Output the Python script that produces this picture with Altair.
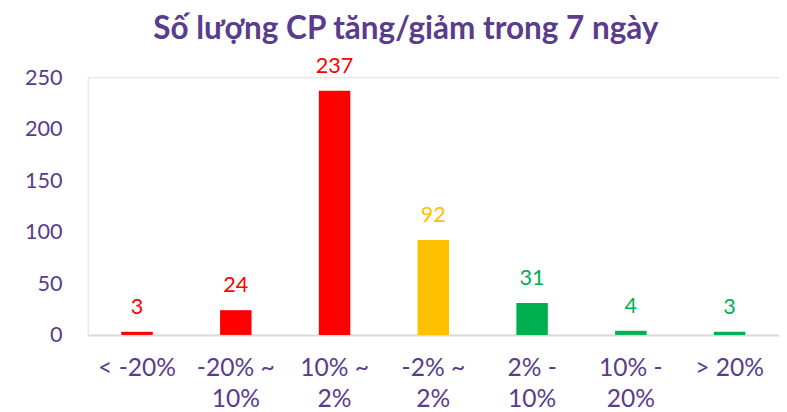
import altair as alt
import pandas as pd

categories = ["< -20%", "-20% ~\n10%", "10% ~\n2%", "-2% ~\n2%", "2% -\n10%", "10% -\n20%", "> 20%"]
values = [3, 24, 237, 92, 31, 4, 3]
colors = ["#FF0000", "#FF0000", "#FF0000", "#FFC000", "#00B050", "#00B050", "#00B050"]

df = pd.DataFrame({"cat": categories, "val": values, "color": colors})

purple = "#5A3C8C"
font = "Lato"

x = alt.X("cat:N", sort=categories, title=None,
          scale=alt.Scale(paddingInner=0, paddingOuter=0),
          axis=alt.Axis(labelAngle=0, labelFontSize=25, labelColor=purple, labelFont=font,
                        labelExpr="split(datum.label, '\\n')", labelLineHeight=32,
                        labelPadding=21, ticks=False, domainColor="#D9D9D9", domainWidth=2,
                        labelBaseline="top"))
y = alt.Y("val:Q", title=None, scale=alt.Scale(domain=[0, 250]),
          axis=alt.Axis(values=[0, 50, 100, 150, 200, 250], labelFontSize=22, labelColor=purple,
                        labelFont=font, grid=False, domain=False, ticks=False, labelPadding=26))

base = alt.Chart(df).encode(x=x, y=y)
bars = base.mark_bar(size=32).encode(color=alt.Color("color:N", scale=None))
texts = base.mark_text(baseline="alphabetic", dy=-18, fontSize=22, font=font).encode(
    text="val:Q", color=alt.Color("color:N", scale=None))

chart = (bars + texts).properties(
    width=703, height=262,
    autosize=alt.AutoSizeParams(type="none"),
    padding={"left": 81, "top": 67, "right": 0, "bottom": 76},
    title=alt.TitleParams("Số lượng CP tăng/giảm trong 7 ngày", fontSize=32, font=font,
                          fontWeight="bold", color=purple, anchor="middle", offset=10, dx=-28),
).configure_view(stroke=None).configure(background="white")

chart.save("out.html", embed_options={"renderer": "svg", "actions": False})
